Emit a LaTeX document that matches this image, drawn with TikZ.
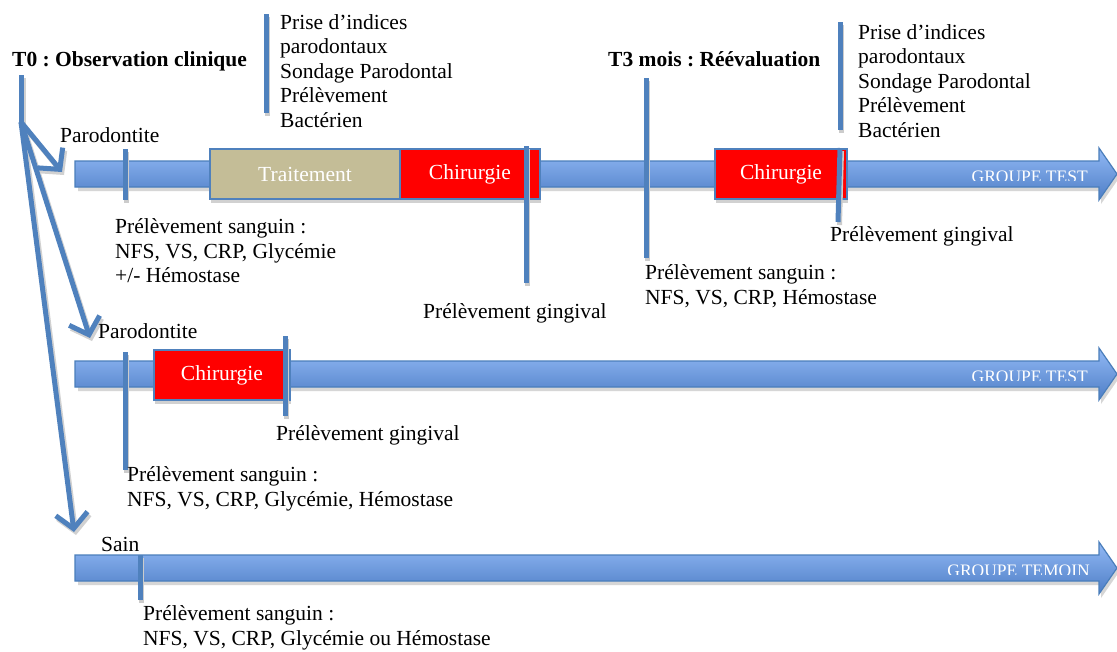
\documentclass[tikz,border=0pt]{standalone}
\usepackage{fontspec}
\setmainfont{Liberation Serif}
\usetikzlibrary{arrows.meta,shadows}
\definecolor{lblue}{RGB}{79,129,189}
\definecolor{aborder}{RGB}{74,126,187}
\definecolor{atop}{RGB}{146,185,245}
\definecolor{abot}{RGB}{78,126,198}
\definecolor{tanfill}{RGB}{196,189,151}
\definecolor{chirred}{RGB}{255,0,0}
\newcommand{\bigarrowrow}[4]{%
  \fill[black!16] (78,{#1-9}) -- (1101,{#1-9}) -- (1101,{#1-22}) -- (1119,{#1+4}) -- (1101,{#1+30}) -- (1101,{#1+17}) -- (78,{#1+17}) -- cycle;
  \path[barrow] (75,{#1-13}) -- (1099,{#1-13}) -- (1099,{#1-26}) -- (1117,{#1}) -- (1099,{#1+26}) -- (1099,{#1+13}) -- (75,{#1+13}) -- cycle;
  \begin{scope}
    \clip (900,{#1-13}) rectangle (1099,{#1+6});
    \node[glabel] (#3) at (#4,{#1+8}) {#2};
  \end{scope}
}
\frenchspacing
\begin{document}
\begin{tikzpicture}[x=1pt,y=-1pt,
  txt/.style={font=\fontsize{21.5}{24.5}\selectfont, inner sep=0pt, align=left},
  ttl/.style={font=\fontsize{21.5}{24.5}\selectfont\bfseries, inner sep=0pt},
  tickline/.style={draw=lblue, line width=5pt, preaction={draw=black!20, line width=5pt, transform canvas={shift={(1.5pt,-3pt)}}}},
  splitarr/.style={draw=lblue, line width=5pt, -{Straight Barb[length=15pt,width=32pt]}},
  splitshadow/.style={draw=black!18, line width=5pt, -{Straight Barb[length=15pt,width=32pt]}},
  phase/.style={draw=lblue, line width=2pt, text=white, font=\fontsize{21.5}{24.5}\selectfont, minimum height=50pt, anchor=north west, inner sep=0pt, drop shadow={shadow xshift=1pt, shadow yshift=-4pt, fill=black!18, opacity=1}},
  barrow/.style={draw=aborder, line width=1.2pt, top color=atop, bottom color=abot},
  glabel/.style={text=white, font=\fontsize{17.5}{19}\selectfont, inner sep=0pt, anchor=base east}
]
\useasboundingbox[fill=white] (0,0) rectangle (1117,651);

% timelines
\bigarrowrow{174}{GROUPE TEST}{g1}{1088}
\bigarrowrow{374}{GROUPE TEST}{g2}{1088}
\bigarrowrow{568}{GROUPE TEMOIN}{g3}{1090}

% phase boxes
\node[phase, fill=tanfill, minimum width=190pt] (trait) at (209,148) {Traitement};
\node[phase, fill=chirred, minimum width=140pt] (chir1) at (399,148) {Chirurgie};
\node[phase, fill=chirred, minimum width=132pt] (chir2) at (714,148) {Chirurgie};
\node[phase, fill=chirred, minimum width=136pt] (chir3) at (153,349) {Chirurgie};

% tick coordinates
\coordinate (t0t) at (21,75);   \coordinate (t0b) at (21,122);
\coordinate (ia) at (266,14);   \coordinate (ib) at (266,113);
\coordinate (r1a) at (125,149); \coordinate (r1b) at (125,200);
\coordinate (g1a) at (526,146); \coordinate (g1b) at (526,283);
\coordinate (t3a) at (646,78);  \coordinate (t3b) at (646,258);
\coordinate (g2a) at (840,148); \coordinate (g2b) at (838,222);
\coordinate (ja) at (840,22);   \coordinate (jb) at (840,130);
\coordinate (r2a) at (125,352); \coordinate (r2b) at (125,470);
\coordinate (g3a) at (285,336); \coordinate (g3b) at (285,416);
\coordinate (r3a) at (140,555); \coordinate (r3b) at (140,600);

\foreach \p/\q in {ia/ib, r1a/r1b, g1a/g1b, t3a/t3b, g2a/g2b, ja/jb, r2a/r2b, g3a/g3b, r3a/r3b}
  \draw[tickline] (\p) -- (\q);

% T0 split arrows
\coordinate (e1) at (62,172);
\coordinate (e2) at (90,338);
\coordinate (e3) at (74,532);
\foreach \e in {e1,e2,e3}
  \draw[splitshadow] ([shift={(2,3)}]t0b) -- ([shift={(2,3)}]\e);
\draw[splitshadow, -] ([shift={(2,3)}]t0t) -- ([shift={(2,3)}]t0b);
\draw[draw=lblue, line width=5pt] (t0t) -- (t0b);
\foreach \e in {e1,e2,e3}
  \draw[splitarr] (t0b) -- (\e);

% titles
\node[ttl, anchor=base west] (t0) at (12,66) {T0 : Observation clinique};
\node[ttl, anchor=base west] (t3) at (608,66) {T3 mois : Réévaluation};

% text blocks
\node[txt, anchor=west] (ind1) at (280,71) {Prise d’indices\\parodontaux\\Sondage Parodontal\\Prélèvement\\Bactérien};
\node[txt, anchor=west] (ind2) at (858,81) {Prise d’indices\\parodontaux\\Sondage Parodontal\\Prélèvement\\Bactérien};

\node[txt, anchor=base west] (p1) at (60,142) {Parodontite};
\node[txt, anchor=west] (s1) at (115,251) {Prélèvement sanguin :\\NFS, VS, CRP, Glycémie\\+/- Hémostase};
\node[txt, anchor=base west] (gg1) at (423,318) {Prélèvement gingival};
\node[txt, anchor=west] (s2) at (645,286) {Prélèvement sanguin :\\NFS, VS, CRP, Hémostase};
\node[txt, anchor=base west] (gg2) at (830,241) {Prélèvement gingival};

\node[txt, anchor=base west] (p2) at (98,338) {Parodontite};
\node[txt, anchor=base west] (gg3) at (276,440) {Prélèvement gingival};
\node[txt, anchor=west] (s3) at (127,489) {Prélèvement sanguin :\\NFS, VS, CRP, Glycémie, Hémostase};

\node[txt, anchor=base west] (sain) at (101,551) {Sain};
\node[txt, anchor=west] (s4) at (143,628) {Prélèvement sanguin :\\NFS, VS, CRP, Glycémie ou Hémostase};
\end{tikzpicture}
\end{document}
